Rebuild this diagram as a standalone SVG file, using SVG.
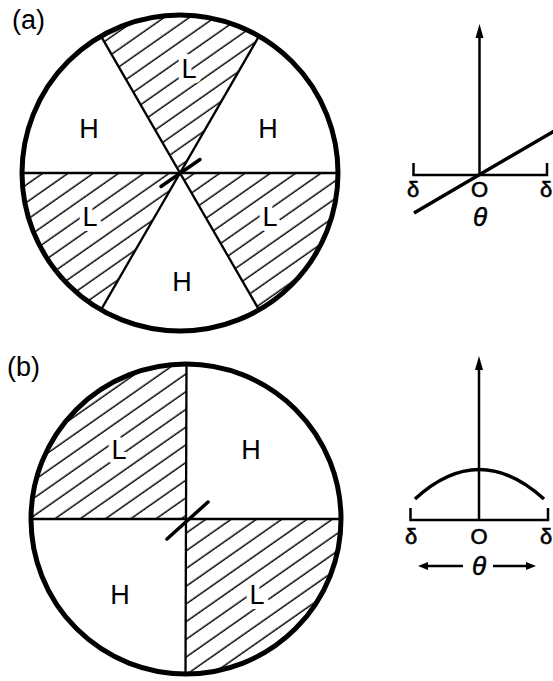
<svg xmlns="http://www.w3.org/2000/svg" width="553" height="681" viewBox="0 0 553 681">
<style>
.rim{fill:none;stroke:#000;stroke-width:5}
.div{fill:none;stroke:#000;stroke-width:2.3}
.tick{stroke:#000;stroke-width:3.5;stroke-linecap:round}
.ax{fill:none;stroke:#000;stroke-width:2.5}
.crv{fill:none;stroke:#000;stroke-width:3.5}
.hat{fill:url(#hatch);stroke:none}
.lbl{font-family:"Liberation Sans",Arial,sans-serif;font-size:27px;fill:#000;text-anchor:middle}
.halo{stroke:#fff;stroke-width:10;paint-order:stroke;stroke-linejoin:round}
.pl{font-family:"Liberation Sans",Arial,sans-serif;font-size:27px;fill:#000}
.ax-t{font-family:"Liberation Sans",Arial,sans-serif;font-size:22px;fill:#000;stroke:#000;stroke-width:0.6;text-anchor:middle}
.th{font-family:"Liberation Sans",Arial,sans-serif;font-size:26px;font-style:italic;fill:#000;stroke:#000;stroke-width:0.5;text-anchor:middle}
</style>
<defs>
<pattern id="hatch" patternUnits="userSpaceOnUse" width="40" height="14.5" patternTransform="rotate(-35)">
<line x1="0" y1="7" x2="40" y2="7" stroke="#000" stroke-width="1.3"/>
</pattern>
</defs>
<rect width="553" height="681" fill="#fff"/>

<g id="panel-a-circle">
<path class="hat" d="M180 173 L101 36.2 A158 158 0 0 1 259 36.2 Z"/>
<path class="hat" d="M180 173 L22 173 A158 158 0 0 0 101 309.8 Z"/>
<path class="hat" d="M180 173 L338 173 A158 158 0 0 1 259 309.8 Z"/>
<text class="lbl" x="89" y="138">H</text>
<text class="lbl" x="268" y="138">H</text>
<text class="lbl" x="182" y="291">H</text>
<text class="lbl halo" x="189" y="78">L</text>
<text class="lbl halo" x="90" y="226">L</text>
<text class="lbl halo" x="270" y="226">L</text>
<line class="div" x1="22" y1="173" x2="338" y2="173"/>
<line class="div" x1="101" y1="36.2" x2="259" y2="309.8"/>
<line class="div" x1="259" y1="36.2" x2="101" y2="309.8"/>
<line class="tick" x1="161" y1="186.5" x2="200" y2="159.5"/>
<circle class="rim" cx="180" cy="173" r="158"/>
</g>

<g id="panel-a-graph">
<line class="ax" x1="479.5" y1="36" x2="479.5" y2="175"/>
<path d="M479.5 24 L475.5 38 L483.5 38 Z" fill="#000"/>
<path class="ax" d="M413.5 163 L413.5 175 L547 175 L547 163"/>
<line class="crv" x1="414" y1="213" x2="555" y2="130.5"/>
<text class="ax-t" x="413" y="197">δ</text>
<text class="ax-t" x="479.5" y="197">O</text>
<text class="ax-t" x="546" y="197">δ</text>
<text class="th" x="480" y="226">θ</text>
</g>

<g id="panel-b-circle">
<path class="hat" d="M186 519 L31 519 A155 155 0 0 1 186 364 Z"/>
<path class="hat" d="M186 519 L341 519 A155 155 0 0 1 186 674 Z"/>
<text class="lbl" x="251" y="459">H</text>
<text class="lbl" x="120" y="604">H</text>
<text class="lbl halo" x="119" y="459">L</text>
<text class="lbl halo" x="257" y="604">L</text>
<line class="div" x1="31" y1="519" x2="341" y2="519"/>
<line class="div" x1="186.5" y1="364" x2="185.5" y2="674"/>
<line class="tick" x1="167" y1="539" x2="208" y2="502"/>
<circle class="rim" cx="186" cy="519" r="155"/>
</g>

<g id="panel-b-graph">
<line class="ax" x1="479" y1="368" x2="479" y2="520"/>
<path d="M479 356 L475 370 L483 370 Z" fill="#000"/>
<path class="ax" d="M410.5 508 L410.5 520 L548 520 L548 508"/>
<path class="crv" d="M415 499 Q479 440 544 499"/>
<text class="ax-t" x="411" y="544">δ</text>
<text class="ax-t" x="479" y="544">O</text>
<text class="ax-t" x="546" y="544">δ</text>
<text class="th" x="479" y="575">θ</text>
<line class="ax" x1="463" y1="566" x2="424" y2="566"/>
<path d="M418 566 L428 562 L428 570 Z" fill="#000"/>
<line class="ax" x1="493" y1="566" x2="530" y2="566"/>
<path d="M536 566 L526 562 L526 570 Z" fill="#000"/>
</g>

<g id="panel-labels">
<text class="pl" x="12" y="29">(a)</text>
<text class="pl" x="7" y="376">(b)</text>
</g>
</svg>
